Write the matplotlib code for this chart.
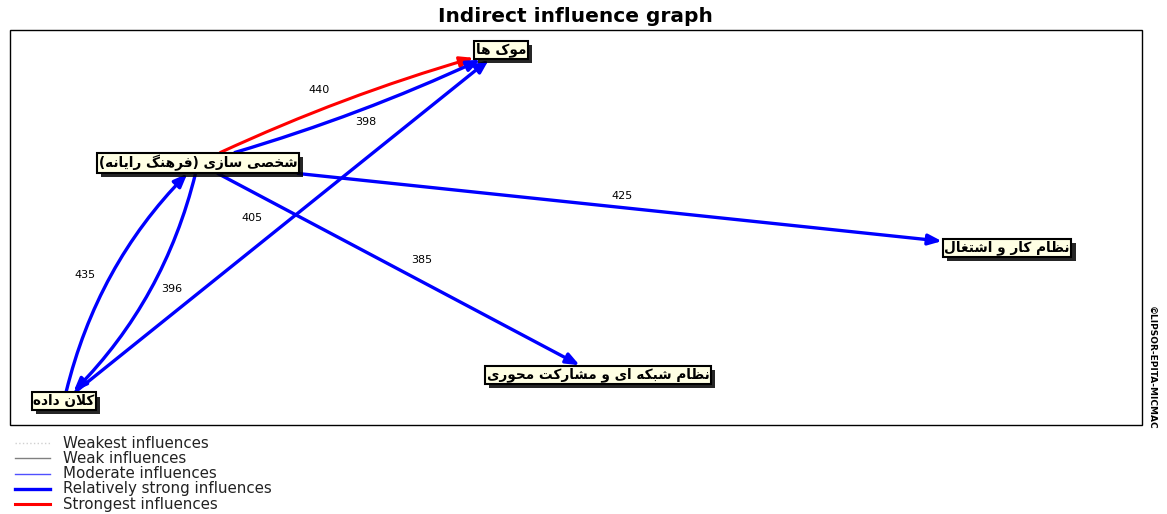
import re
import numpy as np
import matplotlib
matplotlib.use("Agg")
import matplotlib.pyplot as plt
from matplotlib.patches import FancyArrowPatch, Rectangle
from matplotlib.lines import Line2D
import matplotlib.patheffects as pe

# ---------------- data ----------------
title = "Indirect influence graph"
node_names = ["موک ها",
              "شخصی سازی (فرهنگ رایانه)",
              "نظام کار و اشتغال",
              "نظام شبکه ای و مشارکت محوری",
              "کلان داده"]
edge_src = [1, 1, 4, 4, 1, 1, 1]
edge_dst = [0, 0, 0, 1, 4, 2, 3]
edge_val = [440, 398, 405, 435, 396, 425, 385]
edge_cls = [4, 3, 3, 3, 3, 3, 3]   # index into legend classes

legend_labels = ["Weakest influences", "Weak influences", "Moderate influences",
                 "Relatively strong influences", "Strongest influences"]
copyright_text = "©LIPSOR-EPITA-MICMAC"

# ---------------- layout / style ----------------
W, H = 1167, 514
node_x = [501, 198, 1007, 598, 64]
node_y = [50, 163, 248, 375, 401]
edge_rad = [-0.045, 0.045, 0.0, -0.15, -0.15, 0.0, 0.0]
edge_lab_t = [0.43, 0.53, 0.467, 0.44, 0.45, 0.523, 0.537]
edge_lab_off = [-26, 20, -25, -44, -39, -11.5, -19]

cls_colors = ["#d0d0d0", "#808080", "#5050ff", "#0000ff", "#ff0000"]
cls_widths = [1.0, 1.0, 1.0, 2.4, 2.2]
cls_styles = [":", "-", "-", "-", "-"]

# ---------------- minimal Persian shaping + RTL ordering ----------------
FORMS = {
    'ا': ('\uFE8D', '\uFE8E', None, None),
    'ب': ('\uFE8F', '\uFE90', '\uFE91', '\uFE92'),
    'ت': ('\uFE95', '\uFE96', '\uFE97', '\uFE98'),
    'ح': ('\uFEA1', '\uFEA2', '\uFEA3', '\uFEA4'),
    'خ': ('\uFEA5', '\uFEA6', '\uFEA7', '\uFEA8'),
    'د': ('\uFEA9', '\uFEAA', None, None),
    'ر': ('\uFEAD', '\uFEAE', None, None),
    'ز': ('\uFEAF', '\uFEB0', None, None),
    'س': ('\uFEB1', '\uFEB2', '\uFEB3', '\uFEB4'),
    'ش': ('\uFEB5', '\uFEB6', '\uFEB7', '\uFEB8'),
    'ص': ('\uFEB9', '\uFEBA', '\uFEBB', '\uFEBC'),
    'ظ': ('\uFEC5', '\uFEC6', '\uFEC7', '\uFEC8'),
    'غ': ('\uFECD', '\uFECE', '\uFECF', '\uFED0'),
    'ف': ('\uFED1', '\uFED2', '\uFED3', '\uFED4'),
    'ل': ('\uFEDD', '\uFEDE', '\uFEDF', '\uFEE0'),
    'م': ('\uFEE1', '\uFEE2', '\uFEE3', '\uFEE4'),
    'ن': ('\uFEE5', '\uFEE6', '\uFEE7', '\uFEE8'),
    'ه': ('\uFEE9', '\uFEEA', '\uFEEB', '\uFEEC'),
    'و': ('\uFEED', '\uFEEE', None, None),
    'ک': ('\uFB8E', '\uFB8F', '\uFB90', '\uFB91'),
    'گ': ('\uFB92', '\uFB93', '\uFB94', '\uFB95'),
    'ی': ('\uFBFC', '\uFBFD', '\uFBFE', '\uFBFF'),
}


def shape_run(run):
    out = []
    i = 0
    n = len(run)
    while i < n:
        ch = run[i]
        prev = run[i - 1] if i > 0 else None
        prev_joins = prev is not None and FORMS.get(prev, (None,) * 4)[2] is not None
        if ch == 'ل' and i + 1 < n and run[i + 1] == 'ا':
            out.append('\uFEFC' if prev_joins else '\uFEFB')
            i += 2
            continue
        f = FORMS[ch]
        nxt = run[i + 1] if i + 1 < n else None
        next_joins = nxt is not None and f[2] is not None
        if prev_joins and next_joins:
            out.append(f[3])
        elif prev_joins:
            out.append(f[1])
        elif next_joins:
            out.append(f[2])
        else:
            out.append(f[0])
        i += 1
    return ''.join(out)


def fa(text):
    pattern = '[' + ''.join(FORMS.keys()) + ']+'
    shaped = re.sub(pattern, lambda m: shape_run(m.group(0)), text)
    mirror = str.maketrans("()", ")(")
    return shaped[::-1].translate(mirror)


# ---------------- figure ----------------
fig = plt.figure(figsize=(W / 100, H / 100), dpi=100)
ax = fig.add_axes([0, 0, 1, 1])
ax.set_xlim(0, W)
ax.set_ylim(H, 0)
ax.axis("off")

ax.add_patch(Rectangle((10, 30), 1132, 395, fill=False, ec="black", lw=1.0))
ax.text(575, 17, title, ha="center", va="center", fontsize=14.5, fontweight="bold",
        family=["DejaVu Sans"])
ax.text(1151, 368, copyright_text, rotation=-90, ha="center", va="center",
        fontsize=6.5, fontweight="bold", family=["DejaVu Sans"])

# nodes
node_texts = []
for name, x, y in zip(node_names, node_x, node_y):
    t = ax.text(x, y, fa(name), ha="center", va="center", fontsize=9.8,
                fontweight="bold", family=["DejaVu Sans"], color="black", zorder=5,
                bbox=dict(boxstyle="square,pad=0.12", fc="#ffffe4", ec="black", lw=1.5))
    t.get_bbox_patch().set_path_effects([
        pe.SimplePatchShadow(offset=(3, -3), shadow_rgbFace="black", alpha=0.85),
        pe.Normal()])
    node_texts.append(t)

# edges
for s, d, v, c, rad, lt, lo in zip(edge_src, edge_dst, edge_val, edge_cls,
                                   edge_rad, edge_lab_t, edge_lab_off):
    p0 = np.array([node_x[s], node_y[s]], float)
    p1 = np.array([node_x[d], node_y[d]], float)
    arr = FancyArrowPatch(tuple(p0), tuple(p1),
                          connectionstyle=f"arc3,rad={rad}",
                          arrowstyle="-|>,head_length=0.8,head_width=0.32",
                          mutation_scale=10, color=cls_colors[c],
                          lw=cls_widths[c], shrinkA=0, shrinkB=0,
                          patchA=node_texts[s].get_bbox_patch(),
                          patchB=node_texts[d].get_bbox_patch(), zorder=2)
    ax.add_patch(arr)
    vec = p1 - p0
    nrm = np.array([-vec[1], vec[0]]) / np.hypot(*vec)
    lp = p0 + lt * vec + lo * nrm
    ax.text(lp[0], lp[1], str(v), ha="center", va="center", fontsize=8,
            family=["DejaVu Sans"], color="black", zorder=4)

# legend
for i, lab in enumerate(legend_labels):
    y = 443 + i * 15.25
    ax.add_line(Line2D([15, 50], [y, y], color=cls_colors[i], lw=cls_widths[i],
                       ls=cls_styles[i]))
    ax.text(63, y, lab, ha="left", va="center", fontsize=10.8,
            family=["DejaVu Sans"], color="#222222")

fig.canvas.draw()
fig.savefig("out.png", dpi=100, facecolor="white")
